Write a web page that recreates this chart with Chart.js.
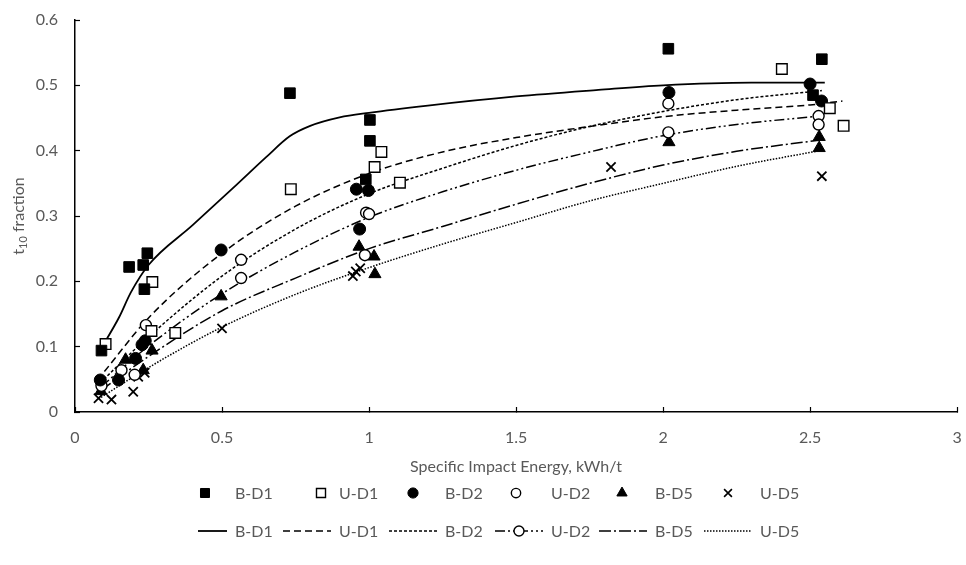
<!DOCTYPE html>
<html>
<head>
<meta charset="utf-8">
<script src="https://cdn.jsdelivr.net/npm/chart.js"></script>
<style>
  html, body { margin: 0; padding: 0; background: #fff; }
</style>
</head>
<body>
<canvas id="chart" width="966" height="565"></canvas>
<script>
// measured t10 values (markers)
const bd1X = [0.09, 0.184, 0.232, 0.236, 0.246, 0.731, 0.989, 1.003, 1.003, 2.018, 2.51, 2.54]
const bd1Y = [0.094, 0.222, 0.225, 0.188, 0.243, 0.488, 0.356, 0.447, 0.415, 0.556, 0.485, 0.540]

const ud1X = [0.104, 0.263, 0.26, 0.341, 0.734, 1.019, 1.042, 1.105, 2.404, 2.567, 2.614]
const ud1Y = [0.104, 0.199, 0.124, 0.121, 0.341, 0.375, 0.398, 0.351, 0.525, 0.465, 0.438]

const bd2X = [0.086, 0.148, 0.206, 0.228, 0.239, 0.497, 0.957, 0.998, 0.968, 2.02, 2.50, 2.539]
const bd2Y = [0.049, 0.049, 0.082, 0.103, 0.109, 0.248, 0.341, 0.339, 0.280, 0.489, 0.502, 0.476]

const ud2X = [0.09, 0.158, 0.203, 0.241, 0.565, 0.565, 0.99, 1.0, 0.986, 2.018, 2.018, 2.529, 2.529]
const ud2Y = [0.040, 0.064, 0.057, 0.133, 0.233, 0.205, 0.305, 0.303, 0.240, 0.472, 0.428, 0.453, 0.440]

const bd5X = [0.088, 0.172, 0.232, 0.262, 0.497, 0.966, 1.017, 1.02, 2.02, 2.531, 2.531]
const bd5Y = [0.032, 0.080, 0.064, 0.094, 0.177, 0.253, 0.238, 0.211, 0.413, 0.421, 0.404]

const ud5X = [0.08, 0.124, 0.198, 0.215, 0.237, 0.50, 0.945, 0.97, 0.955, 1.823, 2.54]
const ud5Y = [0.021, 0.019, 0.031, 0.054, 0.060, 0.128, 0.208, 0.220, 0.215, 0.375, 0.361]

// fitted curves
const fitBd1X = [0.09, 0.15, 0.19, 0.25, 0.40, 0.55, 0.65, 0.73, 0.80, 0.90, 1.0, 1.2, 1.5, 1.78, 2.0, 2.3, 2.55]
const fitBd1Y = [0.098, 0.145, 0.183, 0.225, 0.286, 0.348, 0.39, 0.422, 0.438, 0.451, 0.458, 0.469, 0.483, 0.493, 0.500, 0.504, 0.504]

const fitUd1X = [0.10, 0.25, 0.5, 0.75, 1.0, 1.25, 1.5, 1.75, 2.0, 2.25, 2.5, 2.61]
const fitUd1Y = [0.062, 0.144, 0.243, 0.315, 0.365, 0.398, 0.420, 0.437, 0.452, 0.462, 0.470, 0.476]

const fitBd2X = [0.086, 0.25, 0.5, 0.75, 1.0, 1.25, 1.5, 1.75, 2.0, 2.25, 2.54]
const fitBd2Y = [0.045, 0.115, 0.208, 0.280, 0.334, 0.373, 0.408, 0.437, 0.460, 0.478, 0.492]

const fitUd2X = [0.09, 0.25, 0.5, 0.75, 1.0, 1.25, 1.5, 1.75, 2.0, 2.25, 2.53]
const fitUd2Y = [0.039, 0.101, 0.181, 0.245, 0.298, 0.337, 0.370, 0.398, 0.423, 0.440, 0.453]

const fitBd5X = [0.088, 0.25, 0.5, 0.75, 1.0, 1.25, 1.5, 1.75, 2.0, 2.25, 2.53]
const fitBd5Y = [0.033, 0.085, 0.155, 0.205, 0.250, 0.284, 0.318, 0.350, 0.378, 0.399, 0.416]

const fitUd5X = [0.08, 0.25, 0.5, 0.75, 1.0, 1.25, 1.5, 1.75, 2.0, 2.25, 2.52]
const fitUd5Y = [0.020, 0.068, 0.130, 0.180, 0.221, 0.257, 0.290, 0.323, 0.350, 0.376, 0.399]

const seriesNames = ['B-D1', 'U-D1', 'B-D2', 'U-D2', 'B-D5', 'U-D5']

const FONT = 'Lato, "Open Sans", sans-serif'
const GREY = '#595959'

const pts = (xs, ys) => xs.map((x, i) => ({ x: x, y: ys[i] }))

// marker look per series
const markers = [
    { pointStyle: 'rect', radius: 7.5, fill: '#000' },
    { pointStyle: 'rect', radius: 7.5, fill: '#fff' },
    { pointStyle: 'circle', radius: 6, fill: '#000' },
    { pointStyle: 'circle', radius: 5.5, fill: '#fff' },
    { pointStyle: 'triangle', radius: 7, fill: '#000' },
    { pointStyle: 'crossRot', radius: 6.5, fill: '#000' }
]
// trendline dash per series
const dashes = [[], [7, 4], [3, 2], [10, 3, 2, 3, 2, 3], [12, 3, 2, 3], [1.5, 1.5]]

const scatterSets = [
    pts(bd1X, bd1Y), pts(ud1X, ud1Y), pts(bd2X, bd2Y),
    pts(ud2X, ud2Y), pts(bd5X, bd5Y), pts(ud5X, ud5Y)
].map((data, i) => ({
    label: seriesNames[i],
    data: data,
    showLine: false,
    pointStyle: markers[i].pointStyle,
    pointRadius: markers[i].radius,
    pointBackgroundColor: markers[i].fill,
    pointBorderColor: '#000',
    pointBorderWidth: markers[i].fill === '#fff' ? 1.4 : (i === 5 ? 1.8 : 1),
    order: 0
}))

const lineSets = [
    pts(fitBd1X, fitBd1Y), pts(fitUd1X, fitUd1Y), pts(fitBd2X, fitBd2Y),
    pts(fitUd2X, fitUd2Y), pts(fitBd5X, fitBd5Y), pts(fitUd5X, fitUd5Y)
].map((data, i) => ({
    label: seriesNames[i] + ' fit',
    data: data,
    showLine: true,
    pointRadius: 0,
    borderColor: '#000',
    borderWidth: i === 0 ? 1.8 : 1.5,
    borderDash: dashes[i],
    cubicInterpolationMode: 'monotone',
    fill: false,
    order: 1
}))

// y title with a real subscript, and the two-row legend under the axis
const extras = {
    id: 'extras',
    afterDraw(chart) {
        const ctx = chart.ctx
        const area = chart.chartArea
        ctx.save()
        ctx.fillStyle = GREY
        ctx.textBaseline = 'middle'

        // y axis title
        const big = '16px ' + FONT, small = '11px ' + FONT
        ctx.font = big
        const wT = ctx.measureText('t').width
        const wF = ctx.measureText(' fraction').width
        ctx.font = small
        const w10 = ctx.measureText('10').width
        const total = wT + w10 + wF
        ctx.save()
        ctx.translate(19, (area.top + area.bottom) / 2)
        ctx.rotate(-Math.PI / 2)
        let x = -total / 2
        ctx.textAlign = 'left'
        ctx.font = big
        ctx.fillText('t', x, 0)
        x += wT
        ctx.font = small
        ctx.fillText('10', x, 4)
        x += w10
        ctx.font = big
        ctx.fillText(' fraction', x, 0)
        ctx.restore()

        // legend
        const textX = [235, 339, 445, 551, 655, 760]
        const markX = [205, 321, 413, 516, 622, 728]
        const row1 = 493, row2 = 531
        ctx.font = big
        ctx.textAlign = 'left'
        seriesNames.forEach((name, i) => {
            ctx.fillStyle = GREY
            ctx.fillText(name, textX[i], row1 + 1)
            ctx.fillText(name, textX[i], row2 + 1)

            const m = markers[i]
            ctx.fillStyle = m.fill
            ctx.strokeStyle = '#000'
            ctx.lineWidth = m.fill === '#fff' ? 1.4 : (i === 5 ? 1.6 : 1)
            Chart.helpers.drawPoint(ctx, {
                pointStyle: m.pointStyle, radius: m.radius * 0.85, rotation: 0, borderWidth: ctx.lineWidth
            }, markX[i], row1)

            const x1 = i === 0 ? 198 : textX[i] - 56
            const x2 = textX[i] - 8
            ctx.beginPath()
            ctx.setLineDash(dashes[i])
            ctx.lineWidth = i === 0 ? 1.8 : 1.5
            ctx.moveTo(x1, row2)
            ctx.lineTo(x2, row2)
            ctx.stroke()
            ctx.setLineDash([])
            if (i === 3) {
                ctx.fillStyle = '#fff'
                ctx.lineWidth = 1.4
                Chart.helpers.drawPoint(ctx, {
                    pointStyle: 'circle', radius: 5, rotation: 0, borderWidth: 1.4
                }, (x1 + x2) / 2, row2)
            }
        })
        ctx.restore()
    }
}

const plainNum = (v) => String(+v.toFixed(2))

new Chart(document.getElementById('chart'), {
    type: 'scatter',
    data: { datasets: scatterSets.concat(lineSets) },
    options: {
        responsive: false,
        animation: false,
        layout: { padding: { left: 0, right: 6, top: 20, bottom: 89 } },
        plugins: { legend: { display: false }, tooltip: { enabled: false } },
        scales: {
            x: {
                type: 'linear',
                min: 0,
                max: 3,
                ticks: { stepSize: 0.5, color: GREY, font: { family: FONT, size: 16 }, padding: 21, callback: plainNum },
                grid: { drawOnChartArea: false, tickLength: -5, color: '#000', tickWidth: 1.2 },
                border: { color: '#000', width: 1.5 },
                title: {
                    display: true,
                    text: 'Specific Impact Energy, kWh/t',
                    color: GREY,
                    font: { family: FONT, size: 16 },
                    padding: 0
                },
                afterFit: (axis) => {
                    axis.height = 64
                    axis.paddingLeft = 0
                    axis.paddingRight = 6
                }
            },
            y: {
                min: 0,
                max: 0.6,
                ticks: { stepSize: 0.1, color: GREY, font: { family: FONT, size: 16 }, padding: 22, callback: plainNum },
                grid: { drawOnChartArea: false, tickLength: -5, color: '#000', tickWidth: 1.2 },
                border: { color: '#000', width: 1.5 },
                afterFit: (axis) => {
                    axis.width = 75
                    axis.paddingTop = 0
                    axis.paddingBottom = 0
                }
            }
        }
    },
    plugins: [extras]
})
</script>
</body>
</html>
